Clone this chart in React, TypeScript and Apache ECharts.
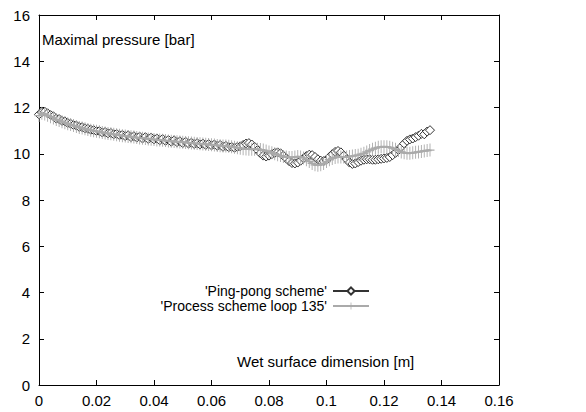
import React, { useEffect, useRef } from "react";
import * as echarts from "echarts";

const xValues = [
  0, 0.001, 0.002, 0.003, 0.004, 0.005, 0.006, 0.007, 0.008, 0.009,
  0.01, 0.011, 0.012, 0.013, 0.014, 0.015, 0.016, 0.017, 0.018, 0.019,
  0.02, 0.021, 0.022, 0.023, 0.024, 0.025, 0.026, 0.027, 0.028, 0.029,
  0.03, 0.031, 0.032, 0.033, 0.034, 0.035, 0.036, 0.037, 0.038, 0.039,
  0.04, 0.041, 0.042, 0.043, 0.044, 0.045, 0.046, 0.047, 0.048, 0.049,
  0.05, 0.051, 0.052, 0.053, 0.054, 0.055, 0.056, 0.057, 0.058, 0.059,
  0.06, 0.061, 0.062, 0.063, 0.064, 0.065, 0.066, 0.067, 0.068, 0.069,
  0.07, 0.071, 0.072, 0.073, 0.074, 0.075, 0.076, 0.077, 0.078, 0.079,
  0.08, 0.081, 0.082, 0.083, 0.084, 0.085, 0.086, 0.087, 0.088, 0.089,
  0.09, 0.091, 0.092, 0.093, 0.094, 0.095, 0.096, 0.097, 0.098, 0.099,
  0.1, 0.101, 0.102, 0.103, 0.104, 0.105, 0.106, 0.107, 0.108, 0.109,
  0.11, 0.111, 0.112, 0.113, 0.114, 0.115, 0.116, 0.117, 0.118, 0.119,
  0.12, 0.121, 0.122, 0.123, 0.124, 0.125, 0.126, 0.127, 0.128, 0.129,
  0.13, 0.131, 0.132, 0.133, 0.134, 0.135, 0.136,
];

const pingPong = [
  11.7, 11.8, 11.82, 11.75, 11.68, 11.62, 11.52, 11.5, 11.42, 11.4,
  11.33, 11.3, 11.24, 11.22, 11.16, 11.15, 11.1, 11.08, 11.04, 11.02,
  10.98, 10.98, 10.92, 10.94, 10.88, 10.9, 10.84, 10.86, 10.8, 10.82,
  10.76, 10.8, 10.72, 10.76, 10.7, 10.74, 10.66, 10.72, 10.64, 10.7,
  10.62, 10.66, 10.58, 10.64, 10.56, 10.6, 10.52, 10.58, 10.5, 10.54,
  10.46, 10.52, 10.44, 10.48, 10.42, 10.46, 10.4, 10.44, 10.38, 10.42,
  10.36, 10.4, 10.34, 10.38, 10.3, 10.34, 10.28, 10.3, 10.26, 10.3,
  10.32, 10.38, 10.44, 10.46, 10.4, 10.3, 10.16, 10.02, 9.92, 9.88,
  9.92, 9.98, 10.04, 10.06, 10.02, 9.92, 9.8, 9.68, 9.6, 9.58,
  9.62, 9.7, 9.8, 9.9, 9.96, 9.94, 9.86, 9.76, 9.7, 9.68,
  9.74, 9.86, 9.98, 10.08, 10.12, 10.06, 9.92, 9.76, 9.62, 9.56,
  9.58, 9.64, 9.7, 9.74, 9.76, 9.76, 9.74, 9.74, 9.76, 9.78,
  9.8, 9.82, 9.86, 9.94, 10.04, 10.16, 10.3, 10.44, 10.56, 10.62,
  10.66, 10.72, 10.78, 10.86, 10.84, 10.96, 11.02,
];

const processLoop = [
  11.65, 11.75, 11.72, 11.66, 11.6, 11.55, 11.48, 11.44, 11.38, 11.34,
  11.3, 11.26, 11.22, 11.18, 11.14, 11.11, 11.08, 11.05, 11.02, 11.0,
  10.97, 10.95, 10.92, 10.9, 10.88, 10.86, 10.84, 10.82, 10.8, 10.78,
  10.77, 10.75, 10.73, 10.72, 10.7, 10.68, 10.67, 10.66, 10.64, 10.63,
  10.62, 10.6, 10.59, 10.58, 10.57, 10.55, 10.54, 10.53, 10.52, 10.51,
  10.5, 10.49, 10.48, 10.46, 10.45, 10.44, 10.43, 10.42, 10.41, 10.4,
  10.39, 10.38, 10.36, 10.35, 10.34, 10.33, 10.32, 10.3, 10.28, 10.26,
  10.24, 10.22, 10.21, 10.2, 10.2, 10.2, 10.2, 10.18, 10.16, 10.12,
  10.08, 10.04, 10.0, 9.96, 9.92, 9.88, 9.86, 9.84, 9.84, 9.86,
  9.88, 9.86, 9.82, 9.74, 9.66, 9.58, 9.52, 9.5, 9.52, 9.58,
  9.66, 9.74, 9.8, 9.84, 9.86, 9.86, 9.86, 9.86, 9.88, 9.9,
  9.92, 9.94, 9.98, 10.02, 10.08, 10.14, 10.2, 10.24, 10.28, 10.3,
  10.3, 10.3, 10.28, 10.24, 10.2, 10.14, 10.08, 10.04, 10.02, 10.02,
  10.04, 10.06, 10.08, 10.1, 10.12, 10.14, 10.16,
];

const seriesNames = ["'Ping-pong scheme'", "'Process scheme loop 135'"];
const yTitle = "Maximal pressure [bar]";
const xTitle = "Wet surface dimension [m]";

const FONT = "Liberation Sans, Arial, sans-serif";
const FS = 15;
const PLUS = "path://M4.5,0H5.5V4.5H10V5.5H5.5V10H4.5V5.5H0V4.5H4.5Z";

export default function App() {
  const ref = useRef<HTMLDivElement>(null);
  useEffect(() => {
    if (!ref.current) return;
    const chart = echarts.init(ref.current, null, { renderer: "svg" });
    const tickCommon = {
      show: true,
      inside: true,
      length: 5,
      lineStyle: { color: "#000", width: 1 },
    };
    const lineCommon = {
      show: true,
      onZero: false,
      lineStyle: { color: "#000", width: 1 },
    };
    const labelCommon = {
      color: "#000",
      fontFamily: FONT,
      fontSize: FS,
    };
    chart.setOption({
      animation: false,
      backgroundColor: "#fff",
      grid: {
        left: 39,
        top: 15,
        width: 460,
        height: 370,
        containLabel: false,
      },
      xAxis: [
        {
          type: "value",
          min: 0,
          max: 0.16,
          interval: 0.02,
          splitLine: { show: false },
          position: "bottom",
          axisLine: lineCommon,
          axisTick: tickCommon,
          axisLabel: { ...labelCommon, margin: 8, formatter: (v: number) => String(+v.toFixed(2)) },
        },
        {
          type: "value",
          min: 0,
          max: 0.16,
          interval: 0.02,
          splitLine: { show: false },
          position: "top",
          axisLine: lineCommon,
          axisTick: tickCommon,
          axisLabel: { show: false },
        },
      ],
      yAxis: [
        {
          type: "value",
          min: 0,
          max: 16,
          interval: 2,
          splitLine: { show: false },
          position: "left",
          axisLine: lineCommon,
          axisTick: tickCommon,
          axisLabel: { ...labelCommon, margin: 9 },
        },
        {
          type: "value",
          min: 0,
          max: 16,
          interval: 2,
          splitLine: { show: false },
          position: "right",
          axisLine: lineCommon,
          axisTick: tickCommon,
          axisLabel: { show: false },
        },
      ],
      legend: {
        orient: "vertical",
        right: 216,
        top: 284,
        align: "right",
        itemWidth: 36,
        itemHeight: 9,
        itemGap: 1,
        padding: 0,
        selectedMode: false,
        textStyle: { ...labelCommon, fontSize: 14, lineHeight: 14, padding: [0, 1, 0, 0] },
        data: seriesNames,
      },
      graphic: [
        {
          type: "text",
          left: 42,
          top: 32,
          style: { text: yTitle, fill: "#000", font: `${FS}px ${FONT}` },
        },
        {
          type: "text",
          left: 237,
          top: 354,
          style: { text: xTitle, fill: "#000", font: `${FS}px ${FONT}` },
        },
      ],
      series: [
        {
          name: seriesNames[1],
          type: "line",
          xAxisIndex: 1,
          yAxisIndex: 1,
          data: xValues.map((x, i) => [x, processLoop[i]]),
          symbol: PLUS,
          symbolSize: [9, 13],
          lineStyle: { color: "#aaaaaa", width: 2 },
          itemStyle: { color: "#aaaaaa" },
          z: 2,
        },
        {
          name: seriesNames[0],
          type: "line",
          xAxisIndex: 0,
          yAxisIndex: 0,
          data: xValues.map((x, i) => [x, pingPong[i]]),
          symbol: "diamond",
          symbolSize: 9,
          lineStyle: { color: "#333", width: 1 },
          itemStyle: { color: "#fff", borderColor: "#333", borderWidth: 1 },
          z: 1,
        },
      ],
    });
    return () => chart.dispose();
  }, []);
  return (
    <div
      ref={ref}
      style={{ position: "absolute", left: 0, top: 0, width: 586, height: 412 }}
    />
  );
}
